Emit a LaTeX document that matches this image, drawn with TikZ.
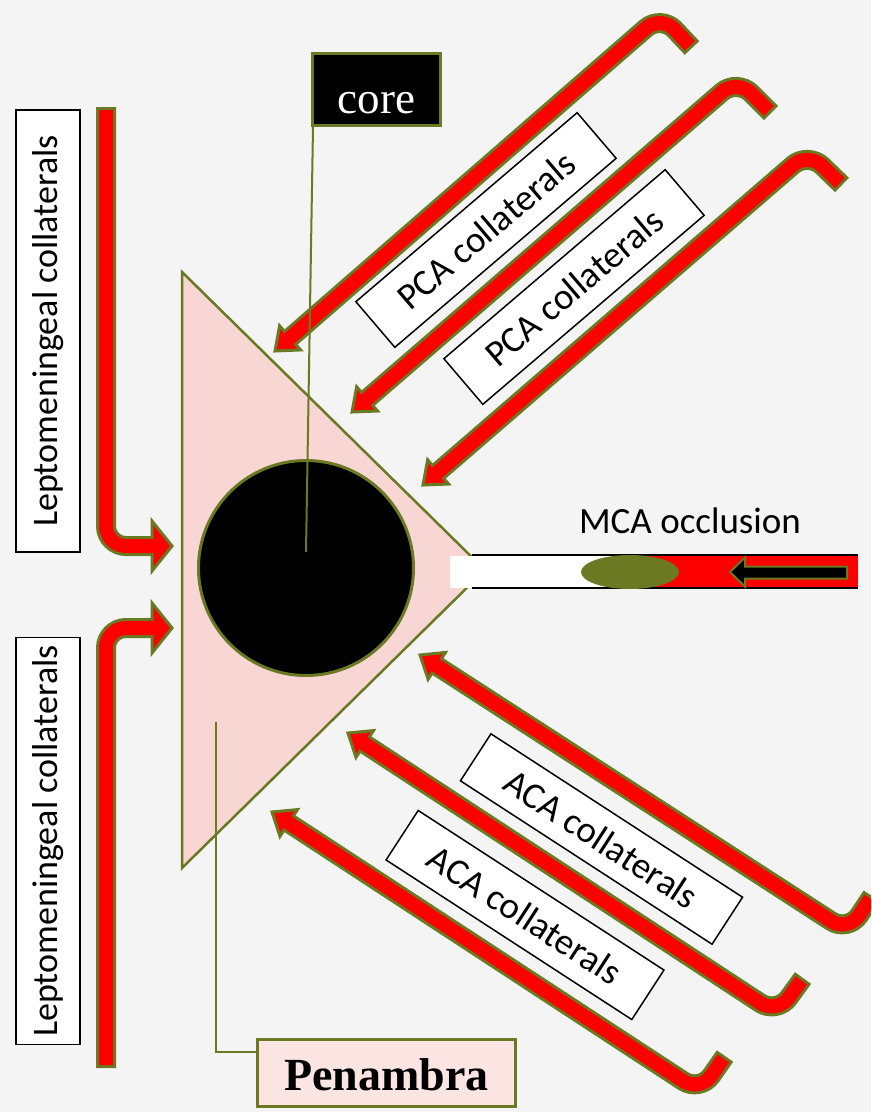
\documentclass[tikz,border=0pt]{standalone}
\usepackage{fontspec}
\setmainfont{Carlito}
\newfontfamily\serifface{Liberation Serif}
\usetikzlibrary{calc}
\definecolor{bg}{RGB}{244,244,244}
\definecolor{olv}{RGB}{106,121,34}
\definecolor{pinkfill}{RGB}{248,214,212}
\definecolor{pinklight}{RGB}{250,229,227}
\tikzset{
  olvshaft/.style={draw=olv, line width=20pt, rounded corners=20pt},
  redshaft/.style={draw=red, line width=14pt, rounded corners=20pt},
  arrhead/.style={draw=olv, fill=red, line width=3pt, line join=miter},
  tbox/.style={draw=black, fill=white, line width=1.5pt, inner sep=0pt, font=\fontsize{37}{44}\selectfont},
  olvline/.style={draw=olv, line width=2pt},
}
\newcommand\blockarrow[2]{%
  \coordinate (#1b) at ($(#1t)!20pt!(#1c)$);
  \coordinate (#1s) at ($(#1t)!17pt!(#1c)$);
  \coordinate (#1e) at ($(#1h)!3pt!(#1c)$);
  \coordinate (#1l) at ($(#1b)!#2!90:(#1c)$);
  \coordinate (#1r) at ($(#1b)!#2!-90:(#1c)$);
  \draw[olvshaft] (#1h) -- (#1c) -- (#1b);
  \draw[arrhead] (#1t) -- (#1l) -- (#1r) -- cycle;
  \draw[redshaft] (#1e) -- (#1c) -- (#1s);
}
\begin{document}
\begin{tikzpicture}[x=1pt,y=-1pt]
\path[use as bounding box] (0,0) rectangle (871,1112);
\clip (0,0) rectangle (871,1112);
\fill[bg] (0,0) rectangle (871,1112);

% penumbra triangle
\draw[draw=olv, fill=pinkfill, line width=2.5pt] (182,272) -- (182,868) -- (485,570) -- cycle;
% core circle
\node[circle, fill=black, draw=olv, line width=3pt, minimum size=215pt, inner sep=0pt] (corecircle) at (306,568) {};

% penambra connector
\coordinate (penpt) at (216,722);
\coordinate (penjoin) at (258,1052);
\draw[olvline] (penpt) |- (penjoin);

% MCA tube
\fill[white] (450,556) rectangle (660,588);
\fill[red] (640,556) rectangle (858,588);
\draw[black, line width=2pt] (472,555) -- (858,555);
\draw[black, line width=2pt] (472,588) -- (858,588);
\fill[olv] (630,572) ellipse [x radius=49, y radius=17];
\draw[draw=olv, fill=black, line width=2pt] (730,572) -- (745,557.5) -- (745,566.5) -- (847,566.5) -- (847,578.5) -- (745,578.5) -- (745,586.5) -- cycle;

% arrows
\coordinate (p1h) at (692,48);  \coordinate (p1c) at (661,15);  \coordinate (p1t) at (275,351);
\coordinate (p2h) at (771,113); \coordinate (p2c) at (737,79);  \coordinate (p2t) at (352,412);
\coordinate (p3h) at (842,185); \coordinate (p3c) at (808,152); \coordinate (p3t) at (423,485);
\coordinate (a1h) at (872,896); \coordinate (a1c) at (848,932); \coordinate (a1t) at (420,655);
\coordinate (a2h) at (803,978); \coordinate (a2c) at (777,1014); \coordinate (a2t) at (348,733);
\coordinate (a3h) at (725,1056); \coordinate (a3c) at (700,1092); \coordinate (a3t) at (272,812);
\coordinate (l1h) at (106,107); \coordinate (l1c) at (106,546); \coordinate (l1t) at (172,546);
\coordinate (l2h) at (106,1068); \coordinate (l2c) at (106,628); \coordinate (l2t) at (172,628);
\blockarrow{p1}{16pt}
\blockarrow{p2}{16pt}
\blockarrow{p3}{16pt}
\blockarrow{a1}{16pt}
\blockarrow{a2}{16pt}
\blockarrow{a3}{16pt}
\blockarrow{l1}{25pt}
\blockarrow{l2}{25pt}

% core label
\node[fill=black, draw=olv, line width=3pt, minimum width=128pt, minimum height=72pt, inner sep=0pt,
      text=white, text height=47pt, text depth=0pt, font=\serifface\fontsize{45}{50}\selectfont] (core) at (376.5,89.5) {core};
\coordinate (coretip) at (306,552);
\draw[olvline] ($(core.south west)+(2,0)$) -- (coretip);

% penambra label
\node[fill=pinklight, draw=olv, line width=3pt, minimum width=258pt, minimum height=67pt, inner sep=0pt,
      text height=34pt, text depth=0pt, font=\serifface\bfseries\fontsize{46}{50}\selectfont] (pen) at (386.5,1073) {Penambra};

% text boxes
\node[tbox, font=\fontsize{36}{42}\selectfont, minimum width=442pt, minimum height=64pt, rotate=90] (lep1) at (48,331) {Leptomeningeal collaterals};
\node[tbox, font=\fontsize{36}{42}\selectfont, minimum width=407pt, minimum height=64pt, rotate=90] (lep2) at (48,841) {Leptomeningeal collaterals};
\node[tbox, minimum width=291pt, minimum height=60pt, rotate=40.5] (pca1) at (486,230) {PCA collaterals};
\node[tbox, minimum width=291pt, minimum height=60pt, rotate=40.5] (pca2) at (574,287) {PCA collaterals};
\node[tbox, minimum width=300pt, minimum height=56pt, rotate=-33] (aca1) at (601.5,839) {ACA collaterals};
\node[tbox, minimum width=293pt, minimum height=59pt, rotate=-33] (aca2) at (525,915) {ACA collaterals};

% MCA label
\node[font=\fontsize{37}{44}\selectfont, inner sep=0pt] (mca) at (690,521) {MCA occlusion};
\end{tikzpicture}
\end{document}
